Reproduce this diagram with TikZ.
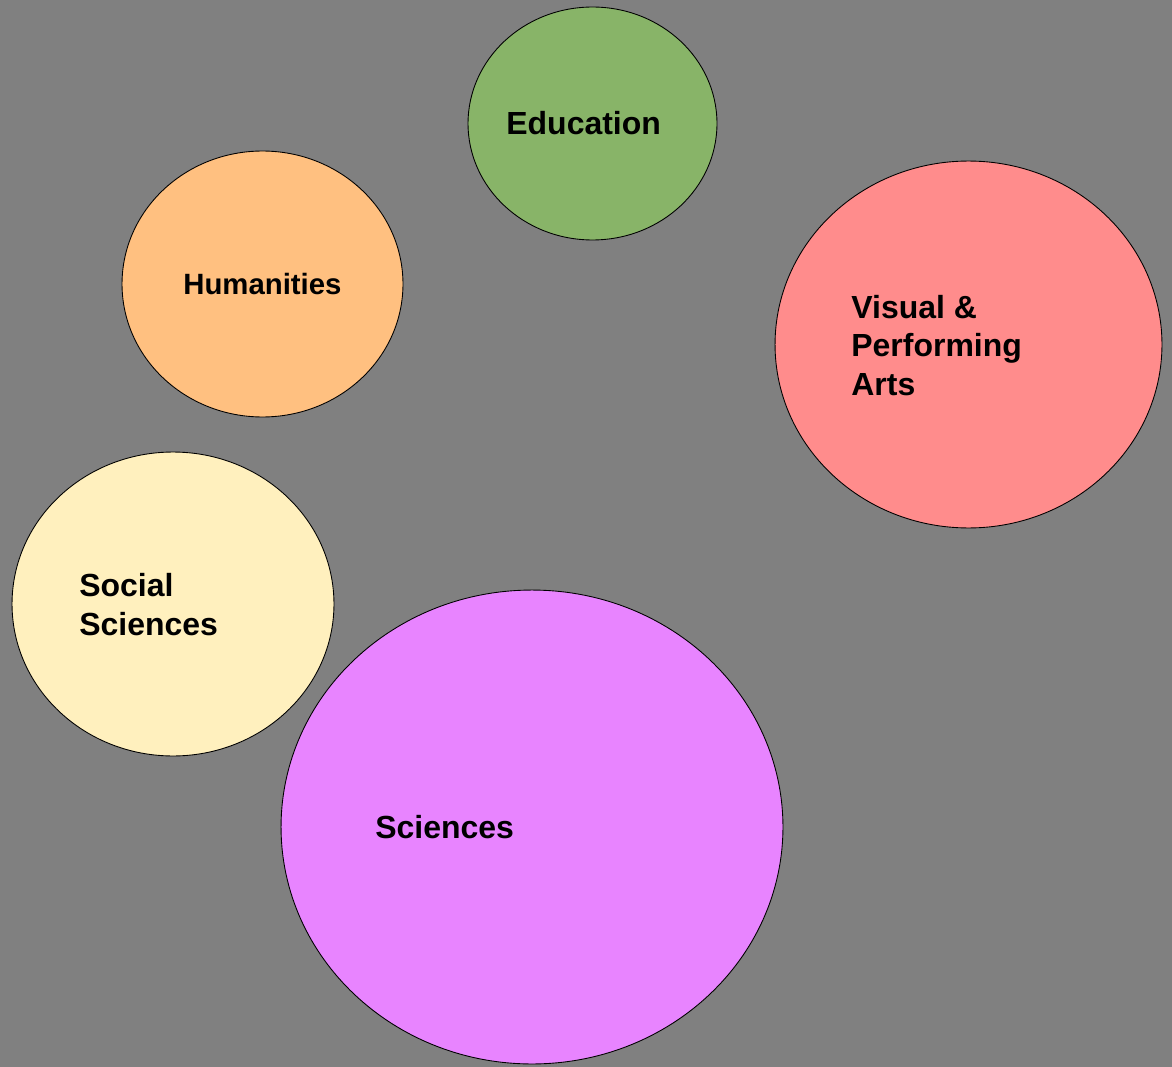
\documentclass[tikz,border=0pt]{standalone}
\usepackage{fontspec}
\setmainfont{Liberation Sans}
\usepackage{tikz}
\usetikzlibrary{shapes.geometric}
\definecolor{backgray}{HTML}{808080}
\definecolor{edugreen}{HTML}{88B468}
\definecolor{humorange}{HTML}{FFC080}
\definecolor{artsred}{HTML}{FF8C8C}
\definecolor{socyellow}{HTML}{FFF0BE}
\definecolor{scipink}{HTML}{E884FF}
\tikzset{
    bubble/.style={ellipse, draw=black, line width=0.5pt, inner sep=0pt, outer sep=0pt},
    bubblelabel/.style={anchor=base west, inner sep=0pt, align=left,
        font=\bfseries\fontsize{18.2}{21.9}\selectfont}
}

\begin{document}
\begin{tikzpicture}[x=0.02cm, y=-0.02cm]
    % Background
    \fill[backgray] (0,0) rectangle (1172,1067);
    \useasboundingbox (0,0) rectangle (1172,1067);

    % Bubbles
    \foreach \name/\cx/\cy/\w/\h/\col in {
        edu/592.5/123.5/4.98/4.66/edugreen,
        hum/262.5/284/5.62/5.32/humorange,
        arts/968.5/344.5/7.74/7.34/artsred,
        soc/173/604/6.44/6.08/socyellow,
        sci/532/827/10.04/9.48/scipink} {
        \node[bubble, fill=\col, minimum width=\w cm, minimum height=\h cm] (\name) at (\cx,\cy) {};
    }

    % Labels (base of a multi-line label is its last line)
    \node[bubblelabel] (edutext) at (506,135) {Education};
    \node[bubblelabel, font=\bfseries\fontsize{16.7}{20}\selectfont] (humtext) at (183,295) {Humanities};
    \node[bubblelabel] (artstext) at (851,395) {Visual \&\\Performing\\Arts};
    \node[bubblelabel] (soctext) at (79,635) {Social\\Sciences};
    \node[bubblelabel] (scitext) at (375,838) {Sciences};
\end{tikzpicture}
\end{document}
